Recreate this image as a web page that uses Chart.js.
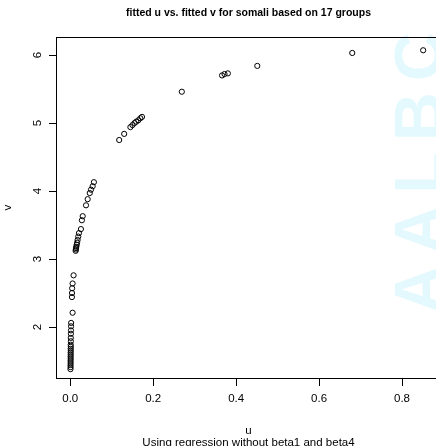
<!DOCTYPE html>
<html>
<head>
<meta charset="utf-8">
<script src="https://cdn.jsdelivr.net/npm/chart.js@4.4.0/dist/chart.umd.min.js"></script>
<style>
  html, body { margin: 0; padding: 0; background: #fff; overflow: hidden; }
  #wrap { width: 450px; height: 446px; }
</style>
</head>
<body>
<div id="wrap"><canvas id="chart" width="450" height="446"></canvas></div>
<script>
// fitted u / fitted v pairs
const uValues = [
  0.0005, 0.0008, 0.0006, 0.0009, 0.0007, 0.0010, 0.0008, 0.0011, 0.0009, 0.0012,
  0.0010, 0.0013, 0.0011, 0.0014, 0.0013,
  0.0015, 0.0017, 0.0019, 0.0021, 0.0056,
  0.0040, 0.0042, 0.0045, 0.0056, 0.0080,
  0.0130, 0.0135, 0.0140, 0.0145, 0.0155, 0.0165, 0.0177, 0.0193, 0.0209, 0.0257,
  0.028, 0.030, 0.038, 0.042, 0.047, 0.050, 0.054, 0.057,
  0.118, 0.130, 0.145, 0.150, 0.155, 0.159, 0.164, 0.169, 0.173,
  0.269, 0.366, 0.372, 0.380, 0.451, 0.680, 0.851
];
const vValues = [
  1.38, 1.41, 1.44, 1.47, 1.50, 1.53, 1.56, 1.59, 1.62, 1.65,
  1.68, 1.71, 1.74, 1.79, 1.84,
  1.90, 1.95, 2.01, 2.06, 2.21,
  2.44, 2.50, 2.57, 2.64, 2.76,
  3.12, 3.14, 3.16, 3.18, 3.21, 3.24, 3.28, 3.33, 3.38, 3.44,
  3.57, 3.63, 3.79, 3.88, 3.97, 4.02, 4.07, 4.13,
  4.75, 4.84, 4.94, 4.97, 5.00, 5.02, 5.04, 5.07, 5.09,
  5.46, 5.70, 5.72, 5.73, 5.84, 6.03, 6.07
];
const uTicks = [0, 0.2, 0.4, 0.6, 0.8];
const vTicks = [2, 3, 4, 5, 6];

const FONT = '"Liberation Sans", Arial, Helvetica, sans-serif';

const points = uValues.map((u, i) => ({ x: u, y: vValues[i] }));

// frame around the plot region, main title and the faint watermark
const framePlugin = {
  id: 'frame',
  beforeDatasetsDraw(chart) {
    const ctx = chart.ctx;
    ctx.save();
    ctx.translate(442, 314);
    ctx.rotate(-Math.PI / 2);
    ctx.font = 'bold 68px ' + FONT;
    ctx.fillStyle = 'rgba(0, 200, 235, 0.11)';
    ctx.textAlign = 'left';
    ctx.textBaseline = 'alphabetic';
    let x = 0;
    for (const ch of 'AALBC') {
      ctx.fillText(ch, x, 0);
      x += ctx.measureText(ch).width + 11;
    }
    ctx.restore();
  },
  afterDraw(chart) {
    const { ctx, chartArea: a } = chart;
    ctx.save();
    ctx.strokeStyle = '#000';
    ctx.lineWidth = 1;
    ctx.strokeRect(Math.round(a.left) + 0.5, Math.round(a.top) + 0.5,
      Math.round(a.right - a.left), Math.round(a.bottom - a.top));
    ctx.fillStyle = '#000';
    ctx.font = 'bold 10.5px ' + FONT;
    ctx.textAlign = 'center';
    ctx.textBaseline = 'middle';
    ctx.fillText('fitted u vs. fitted v for somali based on 17 groups', (a.left + a.right) / 2, 13);
    ctx.restore();
  }
};

new Chart(document.getElementById('chart'), {
  type: 'scatter',
  data: {
    datasets: [{
      data: points,
      pointStyle: 'circle',
      pointRadius: 2.6,
      pointHoverRadius: 2.6,
      pointBorderWidth: 1,
      pointBorderColor: '#000',
      pointBackgroundColor: 'rgba(0,0,0,0)'
    }]
  },
  options: {
    responsive: false,
    devicePixelRatio: 1,
    animation: false,
    events: [],
    layout: { padding: { left: 0, top: 37, right: 9, bottom: 0 } },
    plugins: { legend: { display: false }, tooltip: { enabled: false } },
    scales: {
      x: {
        type: 'linear',
        min: -0.0344,
        max: 0.894,
        afterBuildTicks(scale) { scale.ticks = uTicks.map(v => ({ value: v })); },
        afterFit(scale) { scale.height = 68; },
        grid: { drawOnChartArea: false, drawTicks: true, tickLength: 8, color: '#000', lineWidth: 1 },
        border: { display: true, color: '#000', width: 1 },
        ticks: {
          color: '#000',
          padding: 6,
          maxRotation: 0,
          font: { family: FONT, size: 11.5 },
          callback: v => v.toFixed(1)
        },
        title: {
          display: true,
          text: ['u', 'Using regression without beta1 and beta4'],
          color: '#000',
          font: { family: FONT, size: 11.5, lineHeight: 1 },
          padding: { top: 0, bottom: -2.5 }
        }
      },
      y: {
        type: 'linear',
        min: 1.25,
        max: 6.265,
        afterBuildTicks(scale) { scale.ticks = vTicks.map(v => ({ value: v })); },
        afterFit(scale) { scale.width = 56; },
        grid: { drawOnChartArea: false, drawTicks: true, tickLength: 7, color: '#000', lineWidth: 1 },
        border: { display: true, color: '#000', width: 1 },
        ticks: {
          color: '#000',
          padding: 8,
          minRotation: 90,
          maxRotation: 90,
          crossAlign: 'center',
          font: { family: FONT, size: 11.5 },
          callback: v => String(v)
        },
        title: {
          display: true,
          text: 'v',
          color: '#000',
          font: { family: FONT, size: 11.5, lineHeight: 1.2 },
          padding: { top: 1, bottom: 0 }
        }
      }
    }
  },
  plugins: [framePlugin]
});
</script>
</body>
</html>
